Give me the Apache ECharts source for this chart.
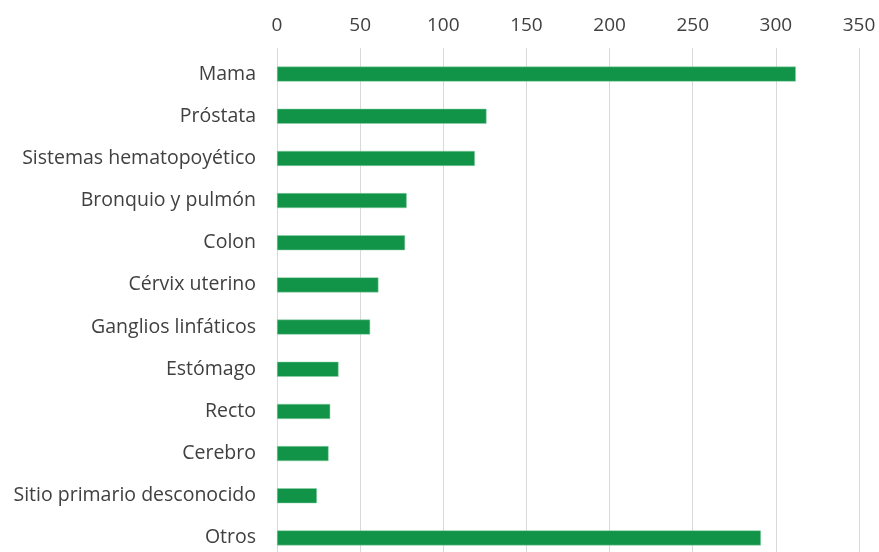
<!DOCTYPE html>
<html><head><meta charset="utf-8">
<script src="https://cdn.jsdelivr.net/npm/echarts@6/dist/echarts.min.js"></script>
<style>html,body{margin:0;padding:0;background:#fff;overflow:hidden;width:879px;height:552px}#c{width:879px;height:560px}</style>
</head><body><div id="c"></div>
<script>
const categories = ["Mama","Próstata","Sistemas hematopoyético","Bronquio y pulmón","Colon","Cérvix uterino","Ganglios linfáticos","Estómago","Recto","Cerebro","Sitio primario desconocido","Otros"];
const values = [312, 126, 119, 78, 77, 61, 56, 37, 32, 31, 24, 291];
const xTicks = {min: 0, max: 350, interval: 50};

const chart = echarts.init(document.getElementById('c'));
chart.setOption({
  animation: false,
  grid: {left: 277, right: 20, top: 53, bottom: 1, containLabel: false},
  xAxis: {
    type: 'value', position: 'top', min: xTicks.min, max: xTicks.max, interval: xTicks.interval,
    axisLine: {show: false},
    axisTick: {show: true, length: 5, lineStyle: {color: '#d9d9d9'}},
    splitLine: {show: true, lineStyle: {color: '#d9d9d9', width: 1}},
    axisLabel: {color: '#404040', fontFamily: 'Open Sans', fontSize: 19, margin: 18}
  },
  yAxis: {
    type: 'category', data: categories, inverse: true,
    axisLine: {show: false}, axisTick: {show: false},
    axisLabel: {color: '#404040', fontFamily: 'Open Sans', fontSize: 19.5, margin: 21}
  },
  series: [{
    type: 'bar', data: values, barWidth: 15,
    itemStyle: {color: '#119448', borderColor: '#8fd0a8', borderWidth: 0.5}
  }]
});
</script></body></html>
